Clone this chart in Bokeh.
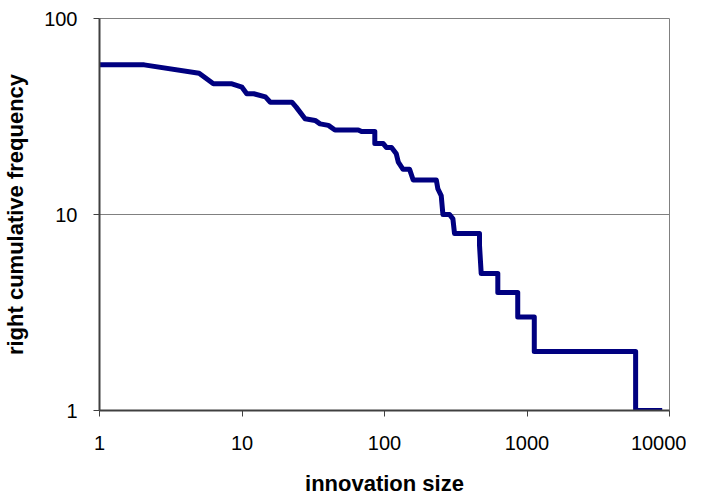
from bokeh.plotting import figure
from bokeh.models import FixedTicker, PrintfTickFormatter, Range1d
from bokeh.embed import file_html
from bokeh.resources import INLINE

# innovation size (x) and right cumulative frequency (y), vertices of the plotted curve
size = [1, 2.06, 5.0, 6.3, 8.5, 10, 10.8, 12.1, 14.6, 15.8, 22.4, 24, 27.7, 32.6, 35.3,
        40.4, 44.9, 65.5, 69, 85.5, 85.5, 98, 103, 112, 121, 125, 135, 150, 159, 231,
        237, 250, 257, 286, 302, 310, 464, 464, 477, 624, 624, 861, 861, 1125, 1125,
        5785, 5785, 8890]
freq = [58, 58, 52.6, 46.4, 46.4, 44.6, 41.3, 41.3, 39.8, 37.4, 37.4, 35.3, 30.8, 30.2, 29.0,
        28.5, 27, 27, 26.5, 26.5, 23, 23, 22, 22, 20.4, 18.5, 17, 17, 15, 15,
        13.5, 12.5, 10, 10, 9.5, 8, 8, 7, 5, 5, 4, 4, 3, 3, 2,
        2, 1, 1]

x_ticks = [1, 10, 100, 1000, 10000]
y_ticks = [1, 10, 100]
x_title = "innovation size"
y_title = "right cumulative frequency"

p = figure(width=686, height=500, x_axis_type="log", y_axis_type="log",
           x_range=Range1d(1, 10000), y_range=Range1d(1, 100),
           output_backend="svg", toolbar_location=None,
           min_border_left=98, min_border_right=17, min_border_top=18, min_border_bottom=90)

p.background_fill_color = "white"
p.border_fill_color = "white"
p.outline_line_color = "#808080"
p.outline_line_width = 1

p.line(size, freq, line_color="#000080", line_width=5, line_join="round")

font = "Liberation Sans"
for ax in (p.xaxis[0], p.yaxis[0]):
    ax.axis_line_color = "#404040"
    ax.axis_line_width = 2
    ax.major_tick_line_color = "#404040"
    ax.major_tick_line_width = 1
    ax.major_tick_in = 0
    ax.major_tick_out = 6
    ax.minor_tick_line_color = None
    ax.major_label_text_font = font
    ax.major_label_text_font_size = "20px"
    ax.major_label_text_color = "black"
    ax.axis_label_text_font = font
    ax.axis_label_text_font_size = "22px"
    ax.axis_label_text_font_style = "bold"
    ax.axis_label_text_color = "black"
    ax.formatter = PrintfTickFormatter(format="%d")

p.xaxis.ticker = FixedTicker(ticks=x_ticks)
p.yaxis.ticker = FixedTicker(ticks=y_ticks)
p.xaxis.axis_label = x_title
p.yaxis.axis_label = y_title
p.xaxis.major_label_standoff = 19
p.xaxis.axis_label_standoff = 18
p.yaxis.major_label_standoff = 16
p.yaxis.axis_label_standoff = 13

p.xgrid.grid_line_color = None
p.ygrid.ticker = FixedTicker(ticks=y_ticks)
p.ygrid.grid_line_color = "#808080"
p.ygrid.grid_line_width = 1

open("out.html", "w").write(file_html(p, INLINE))
